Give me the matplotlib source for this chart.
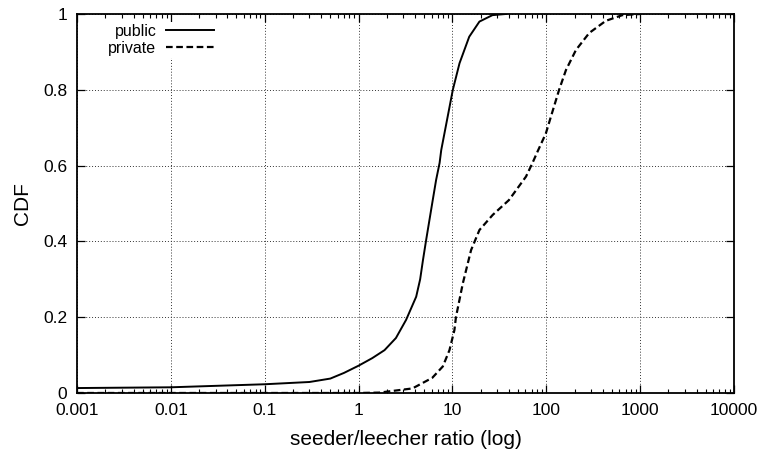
import matplotlib
matplotlib.use('Agg')
import matplotlib.pyplot as plt
from matplotlib.ticker import FixedLocator, LogLocator, NullFormatter

plt.rcParams['font.family'] = ['Liberation Sans', 'DejaVu Sans']

# Data
public_x = [0.001, 0.01, 0.1, 0.3, 0.5, 0.7, 1.0, 1.4, 1.89, 2.5, 3.21, 4.11,
            4.53, 4.85, 5.25, 6.17, 6.7, 7.3, 7.6, 10.1, 11.9, 15.1, 19.4, 26.7, 37.0]
public_y = [0.013, 0.015, 0.023, 0.029, 0.038, 0.053, 0.072, 0.092, 0.113, 0.145,
            0.193, 0.254, 0.3, 0.35, 0.404, 0.509, 0.562, 0.607, 0.641, 0.8, 0.87,
            0.94, 0.98, 0.997, 1.0]

private_x = [0.001, 1.0, 1.67, 3.75, 6.1, 7.9, 9.3, 10.5, 10.9, 12.9, 15.8, 19.4,
             26.9, 40.0, 60.8, 71.0, 80.7, 99.0, 112.0, 137.0, 162.0, 207.0,
             287.0, 431.0, 647.0, 1000.0]
private_y = [0.0, 0.0, 0.001, 0.012, 0.04, 0.07, 0.113, 0.166, 0.2, 0.289, 0.377,
             0.43, 0.47, 0.509, 0.571, 0.606, 0.637, 0.685, 0.729, 0.8, 0.852,
             0.905, 0.95, 0.982, 0.997, 1.0]

x_ticks = [0.001, 0.01, 0.1, 1, 10, 100, 1000, 10000]
x_labels = ['0.001', '0.01', '0.1', '1', '10', '100', '1000', '10000']
y_ticks = [0, 0.2, 0.4, 0.6, 0.8, 1]
y_labels = ['0', '0.2', '0.4', '0.6', '0.8', '1']

fig = plt.figure(figsize=(7.61, 4.53), dpi=100)
ax = fig.add_axes([0.1012, 0.1325, 0.8633, 0.8366])

ax.plot(public_x, public_y, color='black', lw=1.4, label='public')
ax.plot(private_x, private_y, color='black', lw=1.6, ls=(0, (3, 1.6)),
        label='private')

ax.set_xscale('log')
ax.set_xlim(0.001, 10000)
ax.set_ylim(0, 1)

ax.xaxis.set_major_locator(FixedLocator(x_ticks))
ax.set_xticklabels(x_labels)
ax.xaxis.set_minor_locator(LogLocator(base=10, subs=range(2, 10), numticks=20))
ax.xaxis.set_minor_formatter(NullFormatter())
ax.set_yticks(y_ticks)
ax.set_yticklabels(y_labels)

ax.tick_params(which='both', direction='in', top=True, right=True,
               labelsize=12.5, colors='black')
ax.tick_params(which='major', length=6, width=0.9)
ax.tick_params(which='minor', length=3, width=0.8)
ax.tick_params(axis='x', which='major', pad=7)
ax.tick_params(axis='y', which='major', pad=7)

for s in ax.spines.values():
    s.set_linewidth(1.3)

ax.grid(True, which='major', color='#333333', ls=(0, (1, 2)), lw=0.7)

ax.set_xlabel('seeder/leecher ratio (log)', fontsize=15, labelpad=9)
ax.set_ylabel('CDF', fontsize=15, labelpad=8)

leg = ax.legend(loc='upper left', bbox_to_anchor=(0.033, 1.0), markerfirst=False,
                handlelength=3.0, handletextpad=0.6, labelspacing=0.15,
                fontsize=11.5, frameon=True, fancybox=False, borderpad=0.1)
leg.get_frame().set_facecolor('white')
leg.get_frame().set_edgecolor('none')
leg.get_frame().set_alpha(1)
for t in leg.get_texts():
    t.set_ha('right')

fig.savefig('out.png', dpi=100)
